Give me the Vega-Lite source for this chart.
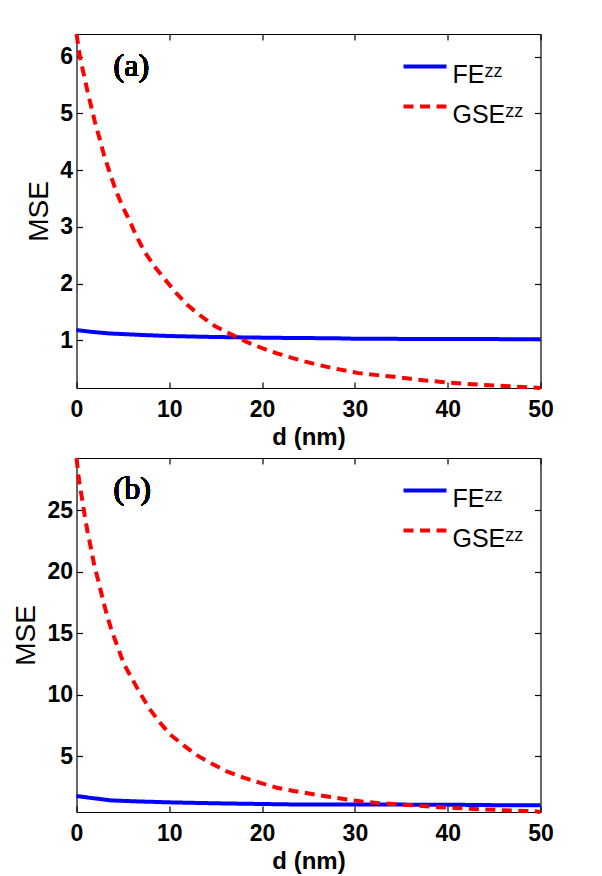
{
  "$schema": "https://vega.github.io/schema/vega-lite/v6.json",
  "background": "white",
  "padding": {"left": 12.5, "top": 26, "right": 5, "bottom": 5},
  "datasets": {
    "a": [
      {"d": 0, "mse": 1.18, "s": "FE"}, {"d": 1.5, "mse": 1.15, "s": "FE"}, {"d": 3.5, "mse": 1.12, "s": "FE"}, {"d": 5.5, "mse": 1.105, "s": "FE"}, {"d": 7.5, "mse": 1.09, "s": "FE"}, {"d": 10, "mse": 1.075, "s": "FE"}, {"d": 14, "mse": 1.06, "s": "FE"}, {"d": 18, "mse": 1.05, "s": "FE"}, {"d": 22, "mse": 1.042, "s": "FE"}, {"d": 26, "mse": 1.037, "s": "FE"}, {"d": 28, "mse": 1.035, "s": "FE"}, {"d": 30, "mse": 1.027, "s": "FE"}, {"d": 35, "mse": 1.024, "s": "FE"}, {"d": 40, "mse": 1.021, "s": "FE"}, {"d": 45, "mse": 1.02, "s": "FE"}, {"d": 50, "mse": 1.018, "s": "FE"},
      {"d": 0, "mse": 6.4, "s": "GSE"}, {"d": 0.4, "mse": 5.97, "s": "GSE"}, {"d": 0.8, "mse": 5.68, "s": "GSE"}, {"d": 1.2, "mse": 5.38, "s": "GSE"}, {"d": 1.6, "mse": 5.11, "s": "GSE"}, {"d": 2.0, "mse": 4.84, "s": "GSE"}, {"d": 2.5, "mse": 4.55, "s": "GSE"}, {"d": 3.0, "mse": 4.24, "s": "GSE"}, {"d": 3.6, "mse": 3.95, "s": "GSE"}, {"d": 4.2, "mse": 3.66, "s": "GSE"}, {"d": 4.9, "mse": 3.38, "s": "GSE"}, {"d": 5.8, "mse": 3.08, "s": "GSE"}, {"d": 6.3, "mse": 2.89, "s": "GSE"}, {"d": 7.3, "mse": 2.57, "s": "GSE"}, {"d": 8.4, "mse": 2.3, "s": "GSE"}, {"d": 9.5, "mse": 2.08, "s": "GSE"}, {"d": 10.7, "mse": 1.84, "s": "GSE"}, {"d": 11.9, "mse": 1.63, "s": "GSE"}, {"d": 13.3, "mse": 1.44, "s": "GSE"}, {"d": 14.9, "mse": 1.25, "s": "GSE"}, {"d": 16.6, "mse": 1.11, "s": "GSE"}, {"d": 18.2, "mse": 0.98, "s": "GSE"}, {"d": 20, "mse": 0.86, "s": "GSE"}, {"d": 21.6, "mse": 0.77, "s": "GSE"}, {"d": 23.4, "mse": 0.68, "s": "GSE"}, {"d": 25.2, "mse": 0.6, "s": "GSE"}, {"d": 27, "mse": 0.53, "s": "GSE"}, {"d": 28.8, "mse": 0.47, "s": "GSE"}, {"d": 30.4, "mse": 0.42, "s": "GSE"}, {"d": 32.4, "mse": 0.385, "s": "GSE"}, {"d": 34.2, "mse": 0.355, "s": "GSE"}, {"d": 36, "mse": 0.32, "s": "GSE"}, {"d": 38, "mse": 0.285, "s": "GSE"}, {"d": 39.7, "mse": 0.26, "s": "GSE"}, {"d": 41.7, "mse": 0.235, "s": "GSE"}, {"d": 43.5, "mse": 0.215, "s": "GSE"}, {"d": 45.3, "mse": 0.2, "s": "GSE"}, {"d": 47.1, "mse": 0.185, "s": "GSE"}, {"d": 48.9, "mse": 0.17, "s": "GSE"}, {"d": 50, "mse": 0.158, "s": "GSE"}
    ],
    "b": [
      {"d": 0, "mse": 1.74, "s": "FE"}, {"d": 1.6, "mse": 1.58, "s": "FE"}, {"d": 3.8, "mse": 1.38, "s": "FE"}, {"d": 6.7, "mse": 1.3, "s": "FE"}, {"d": 10.3, "mse": 1.22, "s": "FE"}, {"d": 15.7, "mse": 1.14, "s": "FE"}, {"d": 22.9, "mse": 1.06, "s": "FE"}, {"d": 30, "mse": 1.05, "s": "FE"}, {"d": 36, "mse": 1.04, "s": "FE"}, {"d": 42, "mse": 1.02, "s": "FE"}, {"d": 46, "mse": 0.99, "s": "FE"}, {"d": 50, "mse": 0.98, "s": "FE"},
      {"d": 0, "mse": 29.27, "s": "GSE"}, {"d": 0.05, "mse": 28.94, "s": "GSE"}, {"d": 0.3, "mse": 27.3, "s": "GSE"}, {"d": 0.6, "mse": 25.95, "s": "GSE"}, {"d": 0.88, "mse": 24.6, "s": "GSE"}, {"d": 1.2, "mse": 23.24, "s": "GSE"}, {"d": 1.56, "mse": 21.9, "s": "GSE"}, {"d": 1.92, "mse": 20.5, "s": "GSE"}, {"d": 2.39, "mse": 19.17, "s": "GSE"}, {"d": 2.82, "mse": 17.8, "s": "GSE"}, {"d": 3.29, "mse": 16.45, "s": "GSE"}, {"d": 3.83, "mse": 15.1, "s": "GSE"}, {"d": 4.44, "mse": 13.9, "s": "GSE"}, {"d": 5.09, "mse": 12.52, "s": "GSE"}, {"d": 5.98, "mse": 11.3, "s": "GSE"}, {"d": 6.88, "mse": 10.08, "s": "GSE"}, {"d": 7.85, "mse": 8.86, "s": "GSE"}, {"d": 8.92, "mse": 7.78, "s": "GSE"}, {"d": 10.1, "mse": 6.74, "s": "GSE"}, {"d": 11.55, "mse": 5.86, "s": "GSE"}, {"d": 13.0, "mse": 5.05, "s": "GSE"}, {"d": 14.6, "mse": 4.37, "s": "GSE"}, {"d": 16.2, "mse": 3.75, "s": "GSE"}, {"d": 18.0, "mse": 3.24, "s": "GSE"}, {"d": 19.8, "mse": 2.81, "s": "GSE"}, {"d": 21.6, "mse": 2.42, "s": "GSE"}, {"d": 23.4, "mse": 2.15, "s": "GSE"}, {"d": 25.2, "mse": 1.93, "s": "GSE"}, {"d": 27, "mse": 1.7, "s": "GSE"}, {"d": 28.8, "mse": 1.5, "s": "GSE"}, {"d": 30.6, "mse": 1.31, "s": "GSE"}, {"d": 32.4, "mse": 1.18, "s": "GSE"}, {"d": 34.4, "mse": 1.07, "s": "GSE"}, {"d": 36.2, "mse": 0.99, "s": "GSE"}, {"d": 38, "mse": 0.88, "s": "GSE"}, {"d": 39.7, "mse": 0.8, "s": "GSE"}, {"d": 41.7, "mse": 0.74, "s": "GSE"}, {"d": 43.5, "mse": 0.66, "s": "GSE"}, {"d": 45.3, "mse": 0.61, "s": "GSE"}, {"d": 47.1, "mse": 0.55, "s": "GSE"}, {"d": 49.1, "mse": 0.52, "s": "GSE"}, {"d": 50, "mse": 0.44, "s": "GSE"}
    ]
  },
  "bounds": "flush",
  "spacing": 70,
  "resolve": {
    "scale": {"x": "independent", "y": "independent", "color": "independent", "strokeDash": "independent"},
    "legend": {"color": "independent", "strokeDash": "independent"}
  },
  "vconcat": [
    {
      "width": 464,
      "height": 354,
      "data": {"name": "a"},
      "resolve": {"axis": {"x": "independent", "y": "independent"}},
      "layer": [
        {
          "transform": [{"filter": "datum.s === 'FE'"}],
          "mark": {"type": "line", "strokeWidth": 4},
          "encoding": {
            "x": {"field": "d", "type": "quantitative", "scale": {"domain": [0, 50], "nice": false}, "axis": {"orient": "bottom", "values": [0, 10, 20, 30, 40, 50], "title": "d (nm)"}},
            "y": {"field": "mse", "type": "quantitative", "scale": {"domain": [0.158, 6.4], "nice": false, "zero": false}, "axis": {"orient": "left", "values": [1, 2, 3, 4, 5, 6], "title": "MSE"}},
            "color": {"field": "s", "type": "nominal", "scale": {"domain": ["FE", "GSE"], "range": ["#0000ff", "#ff0000"]}, "legend": {"title": null, "labelExpr": "datum.label + 'ᶻᶻ'"}},
            "strokeDash": {"field": "s", "type": "nominal", "scale": {"domain": ["FE", "GSE"], "range": [[1, 0], [10, 6.5]]}, "legend": {"title": null, "labelExpr": "datum.label + 'ᶻᶻ'"}}
          }
        },
        {
          "transform": [{"filter": "datum.s === 'GSE'"}],
          "mark": {"type": "line", "strokeWidth": 4},
          "encoding": {
            "x": {"field": "d", "type": "quantitative", "axis": {"orient": "top", "values": [0, 10, 20, 30, 40, 50], "labels": false, "title": null}},
            "y": {"field": "mse", "type": "quantitative", "axis": {"orient": "right", "values": [1, 2, 3, 4, 5, 6], "labels": false, "title": null}},
            "color": {"field": "s", "type": "nominal", "legend": {"title": null, "labelExpr": "datum.label + 'ᶻᶻ'"}},
            "strokeDash": {"field": "s", "type": "nominal", "legend": {"title": null, "labelExpr": "datum.label + 'ᶻᶻ'"}}
          }
        },
        {
          "mark": {"type": "text", "text": "(a)", "font": "Liberation Serif", "fontSize": 32, "fontWeight": "normal", "align": "left", "baseline": "alphabetic", "color": "#000"},
          "encoding": {
            "x": {"datum": 4.0, "type": "quantitative", "axis": null},
            "y": {"datum": 5.66, "type": "quantitative", "axis": null}
          }
        }
      ]
    },
    {
      "width": 464,
      "height": 354,
      "data": {"name": "b"},
      "resolve": {"axis": {"x": "independent", "y": "independent"}},
      "layer": [
        {
          "transform": [{"filter": "datum.s === 'FE'"}],
          "mark": {"type": "line", "strokeWidth": 4},
          "encoding": {
            "x": {"field": "d", "type": "quantitative", "scale": {"domain": [0, 50], "nice": false}, "axis": {"orient": "bottom", "values": [0, 10, 20, 30, 40, 50], "title": "d (nm)"}},
            "y": {"field": "mse", "type": "quantitative", "scale": {"domain": [0.44, 29.27], "nice": false, "zero": false}, "axis": {"orient": "left", "values": [5, 10, 15, 20, 25], "title": "MSE"}},
            "color": {"field": "s", "type": "nominal", "scale": {"domain": ["FE", "GSE"], "range": ["#0000ff", "#ff0000"]}, "legend": {"title": null, "labelExpr": "datum.label + 'ᶻᶻ'"}},
            "strokeDash": {"field": "s", "type": "nominal", "scale": {"domain": ["FE", "GSE"], "range": [[1, 0], [10, 6.5]]}, "legend": {"title": null, "labelExpr": "datum.label + 'ᶻᶻ'"}}
          }
        },
        {
          "transform": [{"filter": "datum.s === 'GSE'"}],
          "mark": {"type": "line", "strokeWidth": 4},
          "encoding": {
            "x": {"field": "d", "type": "quantitative", "axis": {"orient": "top", "values": [0, 10, 20, 30, 40, 50], "labels": false, "title": null}},
            "y": {"field": "mse", "type": "quantitative", "axis": {"orient": "right", "values": [5, 10, 15, 20, 25], "labels": false, "title": null}},
            "color": {"field": "s", "type": "nominal", "legend": {"title": null, "labelExpr": "datum.label + 'ᶻᶻ'"}},
            "strokeDash": {"field": "s", "type": "nominal", "legend": {"title": null, "labelExpr": "datum.label + 'ᶻᶻ'"}}
          }
        },
        {
          "mark": {"type": "text", "text": "(b)", "font": "Liberation Serif", "fontSize": 32, "fontWeight": "normal", "align": "left", "baseline": "alphabetic", "color": "#000"},
          "encoding": {
            "x": {"datum": 4.0, "type": "quantitative", "axis": null},
            "y": {"datum": 25.95, "type": "quantitative", "axis": null}
          }
        }
      ]
    }
  ],
  "config": {
    "view": {"stroke": null},
    "axis": {
      "grid": false,
      "domainColor": "#000",
      "domainWidth": 1.2,
      "tickColor": "#000",
      "tickWidth": 1.2,
      "tickSize": -6,
      "labelFlush": false,
      "labelOverlap": false,
      "labelFont": "Liberation Sans",
      "labelFontWeight": "bold",
      "labelFontSize": 23,
      "labelColor": "#000",
      "titleFont": "Liberation Sans",
      "titleColor": "#000"
    },
    "axisX": {"labelPadding": 16, "titleFontSize": 24, "titleFontWeight": "bold", "titlePadding": 4},
    "axisY": {"labelPadding": 10, "titleFontSize": 28, "titleFontWeight": "normal", "titlePadding": 6},
    "legend": {
      "orient": "none",
      "legendX": 331,
      "legendY": 23,
      "padding": 0,
      "symbolType": "M-1.4,-0.52H1.4",
      "symbolSize": 943,
      "symbolStrokeWidth": 4,
      "labelFont": "Liberation Sans",
      "labelFontSize": 25,
      "labelColor": "#000",
      "labelOffset": 10,
      "labelBaseline": "middle",
      "labelLimit": 300,
      "rowPadding": 9
    }
  }
}
